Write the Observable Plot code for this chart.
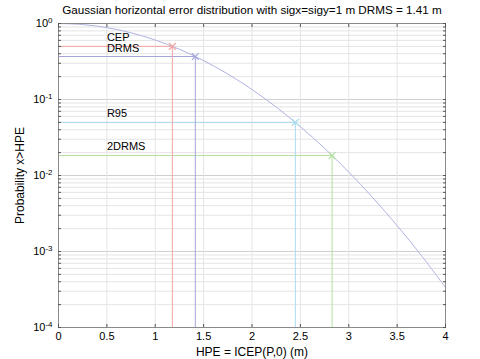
<!DOCTYPE html>
<html><head><meta charset="utf-8">
<script src="https://cdn.jsdelivr.net/npm/d3@7"></script>
<script src="https://cdn.jsdelivr.net/npm/@observablehq/plot@0.6"></script>
<style>
body{margin:0;background:#fff}
#chart svg{font-family:"Liberation Sans",Arial,sans-serif;background:#fff}
</style>
</head><body><div id="chart"></div>
<script>
const title = "Gaussian horizontal error distribution with sigx=sigy=1 m DRMS = 1.41 m";
const xLabel = "HPE = ICEP(P,0) (m)";
const yLabel = "Probability x>HPE";

// curve
const curveHPE = [0, 0.25, 0.5, 0.75, 1.0, 1.25, 1.5, 1.75, 2.0, 2.25, 2.5, 2.75, 3.0, 3.25, 3.5, 3.75, 4.0];
const curveP   = [1, 0.969, 0.8825, 0.755, 0.6065, 0.458, 0.325, 0.2165, 0.1353, 0.0796, 0.0439, 0.0228, 0.0111, 0.00508, 0.00219, 0.00089, 0.000335];

// marked points
const markerNames  = ["CEP", "DRMS", "R95", "2DRMS"];
const markerHPE    = [1.177, 1.414, 2.448, 2.828];
const markerP      = [0.5, 0.368, 0.05, 0.0183];
const markerColors = ["#f4a4a4", "#a4a4dc", "#a8dcee", "#b2e0a2"];
const labelHPE     = [0.5, 0.5, 0.5, 0.5];
const labelP       = [0.66, 0.465, 0.065, 0.024];

// ticks
const xTicks = [0, 0.5, 1, 1.5, 2, 2.5, 3, 3.5, 4];
const yMajor = [1e-4, 1e-3, 1e-2, 1e-1, 1];
const yExp   = ["-4", "-3", "-2", "-1", "0"];
const yMinor = [2e-4,3e-4,4e-4,5e-4,6e-4,7e-4,8e-4,9e-4,
                2e-3,3e-3,4e-3,5e-3,6e-3,7e-3,8e-3,9e-3,
                2e-2,3e-2,4e-2,5e-2,6e-2,7e-2,8e-2,9e-2,
                0.2,0.3,0.4,0.5,0.6,0.7,0.8,0.9];

const curve = curveHPE.map((x, i) => ({x, p: curveP[i]}));
const marks = markerNames.map((name, i) => ({name, x: markerHPE[i], p: markerP[i], c: markerColors[i], lx: labelHPE[i], lp: labelP[i]}));
const yAll = [...yMajor, ...yMinor];

const chart = Plot.plot({
  width: 480,
  height: 359,
  marginLeft: 58,
  marginRight: 35,
  marginTop: 23,
  marginBottom: 32,
  style: {fontSize: "11px", fontFamily: "Liberation Sans, Arial, sans-serif", color: "#000"},
  x: {domain: [0, 4]},
  y: {type: "log", domain: [1e-4, 1]},
  marks: [
    Plot.gridY(yMinor, {stroke: "#e4e4e4", strokeOpacity: 1}),
    Plot.gridY(yMajor, {stroke: "#d0d0d0", strokeOpacity: 1}),
    Plot.gridX(xTicks, {stroke: "#e4e4e4", strokeOpacity: 1}),
    Plot.ruleY(marks, {y: "p", x1: 0, x2: "x", stroke: "c"}),
    Plot.ruleX(marks, {x: "x", y1: 1e-4, y2: "p", stroke: "c"}),
    Plot.line(curve, {x: "x", y: "p", stroke: "#b0b3e2", strokeWidth: 1, curve: "catmull-rom"}),
    Plot.dot(marks, {x: "x", y: "p", stroke: "c", symbol: "times", r: 3.2, strokeWidth: 1.2}),
    Plot.text(marks, {x: "lx", y: "lp", text: "name", textAnchor: "start", fontSize: 11, fill: "#000"}),
    Plot.frame({stroke: "#8a8a8a"}),
    Plot.axisX(xTicks, {anchor: "bottom", tickSize: 0, tickPadding: 5, tickFormat: d => String(d), label: null, fontSize: 11}),
    Plot.axisY(yMajor, {anchor: "left", tickSize: 0, tickPadding: 6, tickFormat: d => "10^" + yExp[yMajor.indexOf(d)], label: null, fontSize: 11}),
    Plot.axisX(xTicks, {anchor: "bottom", tickSize: -3, tickFormat: () => "", label: null, stroke: "#555"}),
    Plot.axisX(xTicks, {anchor: "top", tickSize: -3, tickFormat: () => "", label: null, stroke: "#555"}),
    Plot.axisY(yAll, {anchor: "left", tickSize: -3, tickFormat: () => "", label: null, stroke: "#555"}),
    Plot.axisY(yAll, {anchor: "right", tickSize: -3, tickFormat: () => "", label: null, stroke: "#555"}),
    Plot.text([title], {frameAnchor: "top", textAnchor: "middle", lineAnchor: "middle", dy: -13, fontSize: 11.7, fill: "#000"}),
    Plot.text([xLabel], {frameAnchor: "bottom", textAnchor: "middle", lineAnchor: "middle", dy: 25, fontSize: 12, fill: "#000"}),
    Plot.text([yLabel], {frameAnchor: "left", textAnchor: "middle", lineAnchor: "middle", dx: -38, rotate: -90, fontSize: 12, fill: "#000"})
  ]
});
document.getElementById("chart").appendChild(chart);

// render superscript exponents on the y tick labels
d3.select(chart).selectAll("text").each(function() {
  const t = this.textContent;
  if (/^10\^/.test(t)) {
    const exp = t.slice(3);
    const sel = d3.select(this);
    sel.text("10");
    sel.append("tspan").attr("dy", "-0.45em").attr("font-size", "8px").text(exp);
  }
});
</script>
</body></html>
